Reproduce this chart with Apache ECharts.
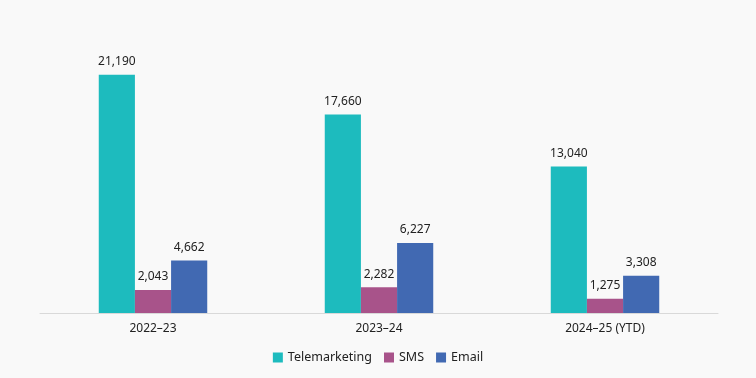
<!DOCTYPE html>
<html>
<head>
<meta charset="utf-8">
<script src="https://cdn.jsdelivr.net/npm/echarts@6/dist/echarts.min.js"></script>
<style>
  html, body { margin: 0; padding: 0; background: #f9f9f9; }
  #chart { width: 756px; height: 378px; }
</style>
</head>
<body>
<div id="chart"></div>
<script>
var years = ['2022\u201323', '2023\u201324', '2024\u201325 (YTD)'];
var telemarketing = [21190, 17660, 13040];
var sms = [2043, 2282, 1275];
var email = [4662, 6227, 3308];

var font = '"Noto Sans", sans-serif';

function barSeries(name, data, color) {
    return {
        name: name,
        type: 'bar',
        data: data,
        barGap: '0%',
        barCategoryGap: '52%',
        itemStyle: { color: color },
        label: {
            show: true,
            position: 'top',
            distance: 7,
            color: '#222',
            fontFamily: font,
            fontSize: 12,
            formatter: function (p) { return p.value.toLocaleString('en-US'); }
        }
    };
}

var chart = echarts.init(document.getElementById('chart'));
chart.setOption({
    backgroundColor: '#f9f9f9',
    animation: false,
    grid: { left: 40, right: 38, top: 32, bottom: 65 },
    legend: {
        bottom: 9,
        left: 'center',
        icon: 'rect',
        itemWidth: 10,
        itemHeight: 10,
        itemGap: 12,
        textStyle: { color: '#222', fontFamily: font, fontSize: 12.5 },
        data: ['Telemarketing', 'SMS', 'Email']
    },
    xAxis: {
        type: 'category',
        data: years,
        axisLine: { lineStyle: { color: '#d9d9d9' } },
        axisTick: { show: false },
        axisLabel: { color: '#222', fontFamily: font, fontSize: 12, margin: 10 }
    },
    yAxis: {
        type: 'value',
        min: 0,
        max: 25000,
        show: false,
        splitLine: { show: false }
    },
    series: [
        barSeries('Telemarketing', telemarketing, '#1dbbbe'),
        barSeries('SMS', sms, '#a8538a'),
        barSeries('Email', email, '#4169b2')
    ]
});
</script>
</body>
</html>
